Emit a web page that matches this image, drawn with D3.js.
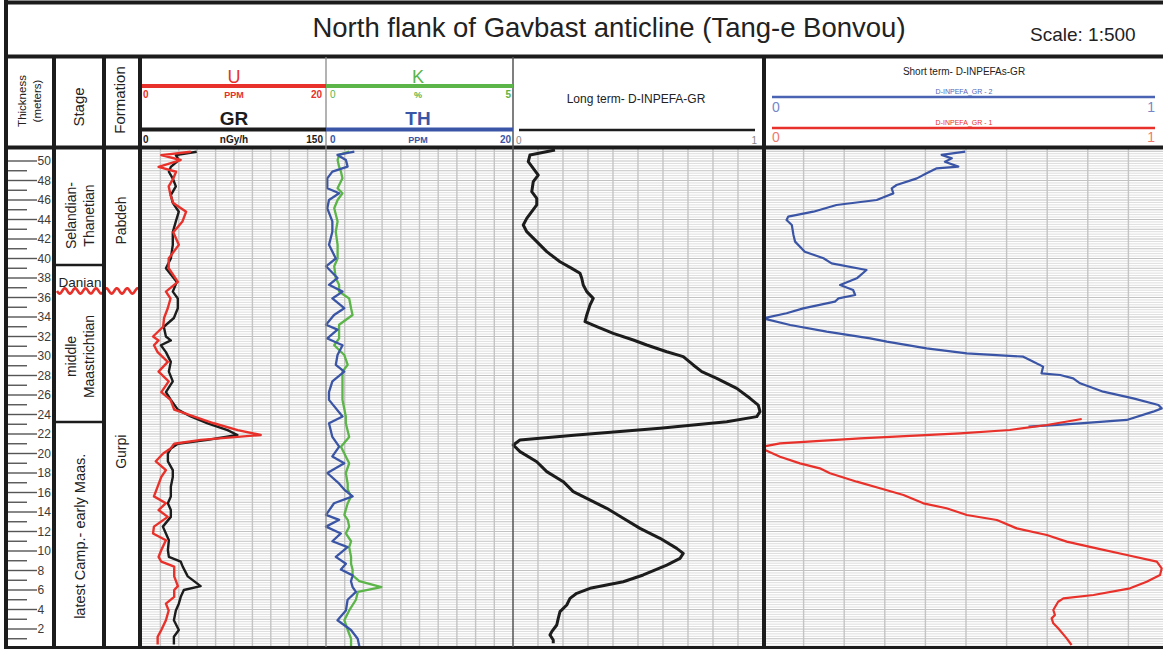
<!DOCTYPE html>
<html>
<head>
<meta charset="utf-8">
<script src="https://cdn.jsdelivr.net/npm/d3@7"></script>
<style>
body { margin: 0; background: #fff; }
svg { display: block; font-family: 'Liberation Sans', Arial, sans-serif; }
</style>
</head>
<body>
<svg id="svg" width="1163" height="649"></svg>
<script>
// ---- data (depth in metres above base of section) ----
const stageNames = ['Selandian-|Thanetian', 'Danian', 'middle|Maastrichtian', 'latest Camp.- early Maas.'];
const stageTop = [51.13, 39.33, 36.67, 23.23];
const stageBase = [39.33, 36.67, 23.23, 0];
const formationNames = ['Pabdeh', 'Gurpi'];
const formationTop = [51.13, 36.67];
const formationBase = [36.67, 0];
const unconformityDepth = 36.67;

// GR (nGy/h) and U (ppm)
const grDepth = [50.95, 50.6, 50.1, 49.4, 48.9, 48.2, 47.4, 46.5, 45.7, 44.8, 43.8, 42.7, 41.4, 40.0, 39.0, 37.6, 36.6, 35.9, 34.9, 33.9, 33.0, 32.0, 31.6, 31.1, 30.4, 29.4, 28.4, 27.4, 26.3, 25.5, 24.5, 23.8, 23.1, 22.4, 21.9, 21.4, 21.0, 20.5, 20.0, 19.2, 18.3, 17.6, 16.6, 15.6, 14.9, 14.2, 13.5, 12.5, 11.8, 11.1, 10.1, 9.4, 8.9, 8.4, 7.4, 6.4, 6.0, 5.3, 4.6, 3.9, 2.9, 1.9, 1.2, 0.4];
const uValues = [5.3, 2.1, 4.2, 1.8, 3.7, 3.4, 2.9, 3.1, 3.4, 4.8, 4.4, 3.4, 4.0, 2.9, 2.9, 3.9, 2.6, 3.1, 2.8, 2.4, 2.3, 1.2, 1.8, 1.3, 1.7, 2.8, 1.8, 2.9, 2.1, 3.1, 3.5, 5.6, 7.8, 10.4, 12.9, 6.4, 3.5, 3.1, 2.3, 1.5, 2.6, 2.1, 1.7, 1.3, 2.6, 1.8, 2.8, 1.3, 1.2, 2.6, 2.1, 1.8, 2.1, 3.5, 3.5, 3.9, 3.5, 3.5, 2.6, 2.9, 2.6, 2.1, 1.7, 1.7];
const grValues = [44.6, 27.6, 30, 23.5, 21.9, 25.1, 27.6, 23.5, 25.1, 30, 27.6, 25.1, 25.1, 23.5, 19.5, 28.4, 25.1, 29.2, 29.2, 26, 17.8, 19.5, 23.5, 15.4, 19.5, 23.5, 21.9, 25.1, 19.5, 23.5, 29.2, 39.7, 53.5, 69.7, 77.8, 53.5, 29.2, 23.5, 21.1, 21.1, 25.1, 25.1, 23.5, 23.5, 21.1, 23.5, 23.5, 17, 19.5, 21.9, 21.1, 21.9, 31.6, 33.2, 37.3, 47.8, 34.1, 31.6, 30, 27.6, 26, 30, 26, 26];

// K (%) and Th (ppm)
const ktDepth = [50.96, 50.62, 50.1, 49.42, 48.91, 48.22, 47.2, 46.69, 46.0, 45.15, 43.8, 42.75, 41.4, 40.0, 39.2, 38.0, 37.3, 36.6, 35.9, 34.9, 34.2, 33.2, 32.7, 31.8, 31.1, 30.1, 29.1, 28.4, 27.4, 26.3, 25.5, 23.8, 23.1, 21.7, 20.7, 19.7, 19.0, 18.0, 16.9, 16.3, 15.6, 14.9, 13.7, 13.2, 12.5, 11.8, 11.0, 10.4, 9.4, 8.7, 8.1, 7.5, 6.9, 6.3, 5.8, 5.0, 3.9, 2.9, 1.9, 1.0, 0.2];
const kValues = [0.62, 0.35, 0.31, 0.35, 0.40, 0.44, 0.31, 0.44, 0.31, 0.22, 0.31, 0.26, 0.31, 0.31, 0.22, 0.26, 0.35, 0.35, 0.62, 0.67, 0.71, 0.35, 0.35, 0.35, 0.22, 0.49, 0.58, 0.44, 0.44, 0.44, 0.44, 0.53, 0.53, 0.62, 0.40, 0.53, 0.62, 0.53, 0.58, 0.58, 0.67, 0.58, 0.49, 0.58, 0.62, 0.53, 0.67, 0.62, 0.67, 0.67, 0.71, 0.71, 0.89, 1.48, 0.85, 0.80, 0.62, 0.49, 0.58, 0.67, 0.67];
const thValues = [3.03, 1.23, 2.13, 2.31, 0.68, 0.14, 0.14, 1.41, 0.32, 0.14, 0.68, 0.68, 0.32, 1.05, 0, 1.23, 0.32, 1.77, 0.68, 1.95, 0.86, 0, 1.23, 0.14, 1.77, 1.23, 1.05, 1.95, 0.68, 0.32, 0.32, 1.77, 0.32, 0.68, 1.41, 0.68, 1.95, 0.14, 1.41, 1.95, 2.85, 0.86, 0, 1.41, 0, 1.59, 0.68, 2.31, 1.05, 2.13, 1.59, 2.85, 2.67, 2.85, 3.2, 2.31, 2.13, 1.23, 2.67, 3.39, 3.57];

// long term D-INPEFA-GR
const ltDepth = [51.13, 50.62, 49.93, 49.25, 48.56, 47.88, 46.85, 46.17, 45.49, 44.80, 44.12, 43.44, 42.75, 41.73, 40.70, 39.67, 38.99, 38.48, 37.97, 37.28, 36.60, 35.91, 35.23, 34.21, 33.52, 33.01, 32.32, 31.64, 31.13, 30.44, 29.93, 29.08, 28.39, 27.71, 26.68, 25.66, 24.97, 24.29, 23.78, 23.26, 22.58, 21.90, 21.38, 20.87, 20.19, 19.16, 18.14, 17.11, 16.09, 15.40, 14.38, 13.35, 12.32, 11.30, 10.27, 9.76, 9.25, 8.56, 7.54, 6.85, 6.17, 5.66, 5.14, 4.46, 3.78, 3.09, 2.41, 1.73, 1.38, 0.87, 0.53];
const ltValues = [0.168, 0.068, 0.061, 0.081, 0.101, 0.081, 0.075, 0.095, 0.095, 0.075, 0.055, 0.041, 0.055, 0.095, 0.135, 0.188, 0.235, 0.268, 0.275, 0.281, 0.295, 0.321, 0.308, 0.295, 0.288, 0.335, 0.401, 0.481, 0.535, 0.615, 0.681, 0.721, 0.755, 0.815, 0.895, 0.948, 0.981, 0.988, 0.975, 0.855, 0.588, 0.255, 0.028, 0.001, 0.028, 0.095, 0.135, 0.201, 0.241, 0.295, 0.375, 0.441, 0.508, 0.588, 0.655, 0.681, 0.668, 0.615, 0.521, 0.441, 0.308, 0.255, 0.228, 0.215, 0.188, 0.181, 0.175, 0.155, 0.148, 0.161, 0.161];

// short term D-INPEFA_GR - 2 (upper) and - 1 (lower)
const st2Depth = [50.96, 50.62, 50.27, 49.93, 49.42, 49.25, 48.74, 48.22, 47.54, 47.20, 46.68, 46.34, 46.0, 45.49, 44.80, 44.29, 43.95, 43.44, 42.41, 41.73, 40.70, 40.02, 39.50, 38.82, 37.97, 37.28, 36.77, 36.26, 35.91, 35.57, 34.89, 34.38, 33.86, 33.18, 32.50, 31.81, 31.47, 30.79, 30.27, 29.93, 29.42, 28.91, 28.22, 28.05, 27.71, 27.20, 26.34, 25.66, 24.97, 24.63, 24.29, 23.44, 23.09, 22.92, 22.75];
const st2Values = [0.498, 0.440, 0.465, 0.448, 0.481, 0.428, 0.403, 0.379, 0.329, 0.317, 0.321, 0.300, 0.280, 0.181, 0.124, 0.062, 0.058, 0.071, 0.075, 0.079, 0.103, 0.149, 0.169, 0.255, 0.231, 0.190, 0.222, 0.227, 0.186, 0.177, 0.099, 0.058, 0.0, 0.067, 0.157, 0.264, 0.305, 0.403, 0.502, 0.641, 0.666, 0.690, 0.686, 0.732, 0.764, 0.781, 0.838, 0.912, 0.974, 0.982, 0.961, 0.896, 0.781, 0.715, 0.654];
const st1Depth = [23.54, 22.92, 22.41, 22.07, 21.56, 21.04, 20.70, 20.36, 19.67, 18.99, 18.48, 17.97, 17.11, 16.43, 15.74, 14.89, 14.38, 13.69, 13.18, 12.32, 11.64, 10.96, 10.27, 9.59, 8.91, 8.22, 7.54, 6.85, 6.17, 5.49, 5.14, 4.80, 3.95, 3.44, 3.09, 2.58, 2.07, 1.04, 0.36];
const st1Values = [0.785, 0.699, 0.608, 0.485, 0.239, 0.042, 0.0, 0.005, 0.042, 0.091, 0.140, 0.165, 0.231, 0.288, 0.346, 0.395, 0.452, 0.502, 0.576, 0.625, 0.699, 0.748, 0.822, 0.896, 0.970, 0.982, 0.978, 0.945, 0.904, 0.814, 0.740, 0.727, 0.715, 0.719, 0.711, 0.715, 0.727, 0.748, 0.760];

const depthLabels = d3.range(2, 51, 2);

// ---- colours ----
const RED = '#e8312a', GREEN = '#5bb548', BLUE = '#3b55a6', INK = '#1c1c1c';

const svg = d3.select('#svg');

// depth -> pixel
const y = d3.scaleLinear().domain([0, 50]).range([648.5, 161]);
const TOP = 149, BOTTOM = 647;

const xGR = d3.scaleLinear().domain([0, 150]).range([142, 326]);
const xU = d3.scaleLinear().domain([0, 20]).range([142, 326]);
const xK = d3.scaleLinear().domain([0, 5]).range([326, 513]);
const xTH = d3.scaleLinear().domain([0, 20]).range([326, 513]);
const xLT = d3.scaleLinear().domain([0, 1]).range([513, 763]);
const xST = d3.scaleLinear().domain([0, 1]).range([763, 1169]);

svg.append('rect').attr('width', 1163).attr('height', 649).attr('fill', '#fff');

svg.append('clipPath').attr('id', 'plot')
  .append('rect').attr('x', 140).attr('y', TOP).attr('width', 1030).attr('height', BOTTOM - TOP);

// ---- track grids ----
const gridG = svg.append('g');
const hLines = d3.range(0.25, 51.1, 0.25);
[[142, 326], [326, 513], [513, 763], [763, 1169]].forEach(r => {
  const gx = d3.scaleLinear().domain([0, 10]).range(r);
  gridG.selectAll(null).data(hLines).enter().append('line')
    .attr('x1', r[0]).attr('x2', r[1])
    .attr('y1', d => y(d)).attr('y2', d => y(d))
    .attr('stroke', d => (d % 1 === 0 ? '#c2c2c2' : '#dedede'))
    .attr('stroke-width', 1);
  gridG.selectAll(null).data(d3.range(1, 10)).enter().append('line')
    .attr('x1', d => gx(d)).attr('x2', d => gx(d))
    .attr('y1', TOP).attr('y2', BOTTOM)
    .attr('stroke', '#c4c4c4').attr('stroke-width', 1.4);
});

// ---- curves ----
const curves = svg.append('g').attr('clip-path', 'url(#plot)').attr('fill', 'none')
  .attr('stroke-linejoin', 'round');

function drawCurve(depths, values, xs, color, width) {
  const line = d3.line().x(d => xs(d[1])).y(d => y(d[0]));
  curves.append('path')
    .datum(d3.zip(depths, values))
    .attr('d', line)
    .attr('stroke', color)
    .attr('stroke-width', width);
}

drawCurve(grDepth, grValues, xGR, INK, 2.4);
drawCurve(grDepth, uValues, xU, RED, 2.4);
drawCurve(ktDepth, kValues, xK, GREEN, 2.3);
drawCurve(ktDepth, thValues, xTH, BLUE, 2.3);
drawCurve(ltDepth, ltValues, xLT, INK, 3);
drawCurve(st2Depth, st2Values, xST, BLUE, 2.2);
drawCurve(st1Depth, st1Values, xST, RED, 2.2);

// ---- thickness scale ----
const scaleG = svg.append('g');
scaleG.selectAll(null).data(d3.range(1, 51)).enter().append('line')
  .attr('x1', 8).attr('x2', d => (d % 2 === 0 ? 37 : 27))
  .attr('y1', d => y(d)).attr('y2', d => y(d))
  .attr('stroke', '#555').attr('stroke-width', 1.4);
scaleG.selectAll(null).data(depthLabels).enter().append('text')
  .attr('x', 37.5).attr('y', d => y(d))
  .attr('dy', '0.36em')
  .attr('font-size', 12).attr('fill', '#3a3a3a')
  .text(d => d);

// ---- stage and formation columns ----
const colG = svg.append('g');
// boundaries (the unconformity is drawn as a wavy line)
stageBase.forEach(b => {
  if (b === 0 || b === unconformityDepth) return;
  colG.append('line').attr('x1', 55).attr('x2', 103)
    .attr('y1', y(b)).attr('y2', y(b))
    .attr('stroke', INK).attr('stroke-width', 2.5);
});
const wy = y(unconformityDepth);
colG.append('path')
  .datum(d3.range(57, 139, 0.5))
  .attr('d', d3.line().x(d => d).y(d => wy + 2.6 * Math.sin((d - 57) / 10.4 * 2 * Math.PI)))
  .attr('fill', 'none').attr('stroke', RED).attr('stroke-width', 2.6);

function rotLabel(g, x, yy, txt, size) {
  g.append('text')
    .attr('transform', 'translate(' + x + ',' + yy + ') rotate(-90)')
    .attr('text-anchor', 'middle').attr('dy', '0.35em')
    .attr('font-size', size).attr('fill', '#222')
    .text(txt);
}

// small visual nudges per stage label
const stageNudge = [8, 2, 0, 1];
stageNames.forEach((s, i) => {
  const cy = (y(stageTop[i]) + y(stageBase[i])) / 2 + stageNudge[i];
  const parts = s.split('|');
  if (s === 'Danian') {
    colG.append('text').attr('x', 80).attr('y', cy + 7)
      .attr('text-anchor', 'middle').attr('font-size', 13.5).attr('fill', '#222')
      .text(s);
  } else if (parts.length === 2) {
    rotLabel(colG, 71, cy, parts[0], 14);
    rotLabel(colG, 89, cy, parts[1], 14);
  } else {
    rotLabel(colG, 80, cy, s, 14.5);
  }
});
const formNudge = [0, -18];
formationNames.forEach((f, i) => {
  const cy = (y(formationTop[i]) + y(formationBase[i])) / 2 + formNudge[i];
  rotLabel(colG, 121, cy, f, 14);
});

// ---- frame ----
const frame = svg.append('g').attr('stroke', INK);
function hl(x1, x2, yy, w, c) {
  frame.append('line').attr('x1', x1).attr('x2', x2).attr('y1', yy).attr('y2', yy)
    .attr('stroke-width', w).attr('stroke', c || INK);
}
function vl(xx, y1, y2, w, c) {
  frame.append('line').attr('x1', xx).attr('x2', xx).attr('y1', y1).attr('y2', y2)
    .attr('stroke-width', w).attr('stroke', c || INK);
}
hl(4, 1163, 2.5, 4);
hl(4, 1163, 56.5, 4);
hl(4, 1163, 147.5, 4);
hl(4, 1163, 647.5, 3);
vl(6, 0, 649, 4);
vl(54, 56, 649, 4);
vl(104, 56, 649, 4);
vl(140, 56, 649, 4);
vl(326, 57, 647, 1.3, '#8a8a8a');
vl(513, 57, 647, 1.5, '#555');
vl(764, 56, 649, 4);

// ---- title ----
svg.append('text').attr('x', 609).attr('y', 37)
  .attr('text-anchor', 'middle').attr('font-size', 27.5).attr('fill', '#222')
  .text('North flank of Gavbast anticline (Tang-e Bonvou)');
svg.append('text').attr('x', 1030).attr('y', 41)
  .attr('font-size', 19).attr('fill', '#222')
  .text('Scale: 1:500');

// ---- header ----
const head = svg.append('g');
rotLabel(head, 22, 101, 'Thickness', 11.5);
rotLabel(head, 37, 101, '(meters)', 11.5);
rotLabel(head, 79, 107, 'Stage', 15);
rotLabel(head, 120, 100, 'Formation', 15);

function txt(x, yy, s, size, color, anchor, weight) {
  head.append('text').attr('x', x).attr('y', yy)
    .attr('text-anchor', anchor || 'middle')
    .attr('font-size', size).attr('fill', color)
    .attr('font-weight', weight || 'normal')
    .text(s);
}
function scaleBar(xs, yy, color, w) {
  head.append('line').attr('x1', xs.range()[0]).attr('x2', xs.range()[1])
    .attr('y1', yy).attr('y2', yy).attr('stroke', color).attr('stroke-width', w);
}

// GR / U
txt(234, 83, 'U', 18, RED);
scaleBar(xU, 86, RED, 4);
txt(143, 98, xU.domain()[0], 10, RED, 'start', 'bold');
txt(234, 98, 'PPM', 9, RED, 'middle', 'bold');
txt(322, 98, xU.domain()[1], 10, RED, 'end', 'bold');
txt(234, 125, 'GR', 19, INK, 'middle', 'bold');
scaleBar(xGR, 129.5, INK, 4);
txt(143, 143, xGR.domain()[0], 10, INK, 'start', 'bold');
txt(234, 143, 'nGy/h', 10, INK, 'middle', 'bold');
txt(323, 143, xGR.domain()[1], 10, INK, 'end', 'bold');

// K / TH
txt(418, 83, 'K', 18, GREEN);
scaleBar(xK, 86, GREEN, 4);
txt(330, 98, xK.domain()[0], 10, GREEN, 'start');
txt(418, 98, '%', 9, GREEN, 'middle', 'bold');
txt(511, 98, xK.domain()[1], 10, GREEN, 'end', 'bold');
txt(418, 125, 'TH', 19, BLUE, 'middle', 'bold');
scaleBar(xTH, 129.5, BLUE, 4);
txt(330, 143, xTH.domain()[0], 10, BLUE, 'start', 'bold');
txt(418, 143, 'PPM', 9, BLUE, 'middle', 'bold');
txt(511, 143, xTH.domain()[1], 10, BLUE, 'end', 'bold');

// long term
txt(636, 103, 'Long term- D-INPEFA-GR', 12, '#222');
head.append('line').attr('x1', 519).attr('x2', 755).attr('y1', 130).attr('y2', 130)
  .attr('stroke', INK).attr('stroke-width', 2.5);
txt(516, 144, xLT.domain()[0], 10, '#888', 'start');
txt(757, 144, xLT.domain()[1], 10, '#888', 'end');

// short term
txt(964, 75, 'Short term- D-INPEFAs-GR', 10, '#222');
txt(964, 94, 'D-INPEFA_GR - 2', 7, '#5068b8');
head.append('line').attr('x1', 772).attr('x2', 1155).attr('y1', 97).attr('y2', 97)
  .attr('stroke', '#4a63b3').attr('stroke-width', 2.5);
txt(772, 112, xST.domain()[0], 14, '#7486c8', 'start');
txt(1155, 112, xST.domain()[1], 14, '#7486c8', 'end');
txt(964, 125, 'D-INPEFA_GR - 1', 7, RED);
head.append('line').attr('x1', 772).attr('x2', 1155).attr('y1', 128).attr('y2', 128)
  .attr('stroke', RED).attr('stroke-width', 2.5);
txt(772, 142, xST.domain()[0], 14, '#ef7a6e', 'start');
txt(1155, 142, xST.domain()[1], 14, '#ef7a6e', 'end');
</script>
</body>
</html>
